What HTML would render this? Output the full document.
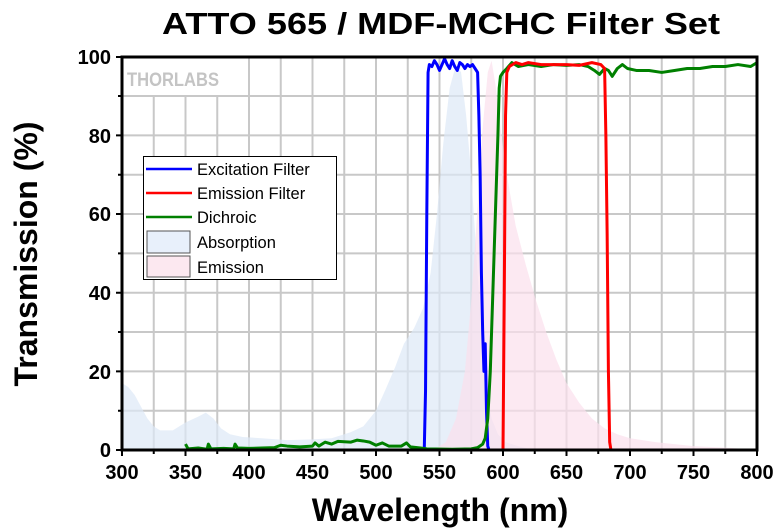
<!DOCTYPE html>
<html><head><meta charset="utf-8"><style>
html,body{margin:0;padding:0;background:#fff;}
svg{display:block;font-family:"Liberation Sans",Arial,sans-serif;}
</style></head><body>
<svg width="780" height="532" viewBox="0 0 780 532">
<text x="441" y="34" text-anchor="middle" font-size="31" font-weight="bold" textLength="558" lengthAdjust="spacingAndGlyphs">ATTO 565 / MDF-MCHC Filter Set</text>
<g stroke="#c8c8c8" stroke-width="2">
<path d="M153.75 57V450M185.5 57V450M217.25 57V450M249 57V450M280.75 57V450M312.5 57V450M344.25 57V450M376 57V450M407.75 57V450M439.5 57V450M471.25 57V450M503 57V450M534.75 57V450M566.5 57V450M598.25 57V450M630 57V450M661.75 57V450M693.5 57V450M725.25 57V450"/>
<path d="M122 410.7H757M122 371.4H757M122 332H757M122 292.7H757M122 253.4H757M122 214H757M122 174.7H757M122 135.4H757M122 96H757"/>
</g>
<rect x="123" y="58" width="102" height="37" fill="#fff"/>
<text x="127" y="86" font-size="19" font-weight="bold" fill="#c4c4c4" textLength="92" lengthAdjust="spacingAndGlyphs">THORLABS</text>
<g transform="translate(122,450) scale(1.27,-3.933) translate(-300,0)">
<polygon fill="#dde8f7" fill-opacity="0.7" points="300,0 300,17 305,16 310,14 315,11 320,8 325,6 330,5 340,5 350,7 360,8.5 366,9.5 372,8 378,5.5 385,4 395,3.3 410,3 430,2.5 450,2.7 465,3 480,4.5 490,6 500,10 507,15 515,21 522,27 530,31 537,36 543,45 548,60 553,78 558,92 563,98 567,96 571,85 575,70 579,50 583,30 587,15 591,8 596,4 602,2 612,1 625,0"/>
<polygon fill="#fbe0ec" fill-opacity="0.7" points="545,0 555,2 563,8 570,20 575,38 580,62 584,82 588,96 591,99 594,93 598,82 603,70 610,57 618,47 626,38 634,30 642,23 650,17 660,12 670,8 680,5.5 690,4 700,3 720,2 750,1 780,0.5 800,0"/>
<g fill="none" stroke-linejoin="round">
<polyline stroke="#0000ff" stroke-width="3" vector-effect="non-scaling-stroke" points="300,0 538,0 539,15 540,60 541,96 542,98 544,97.5 546,99 548,98 550,96.5 552,98 554,99.5 556,98 558,97 560,99 562,97.5 564,96.5 566,98.5 568,98 570,97 572,98 574,97.5 576,98 578,97 580,96 581,85 582,70 583,45 584,30 585,20 586,27 587,10 588,1 589,0 800,0"/>
<polyline stroke="#008000" stroke-width="3" vector-effect="non-scaling-stroke" points="350,1.5 352,0.3 360,0.5 367,0.2 368,1.5 370,0.3 380,0.4 388,0.3 389,1.5 391,0.5 400,0.4 410,0.5 420,0.6 425,1.2 430,1 440,0.8 450,1 452,1.8 455,1 460,2 465,1.5 470,2.2 480,2 485,2.5 490,2.3 495,2 500,1.2 505,1.8 510,1 520,1 524,1.8 527,0.8 535,0.5 540,0.3 560,0.2 575,0.3 580,0.6 584,1.5 586,3 588,8 590,20 592,40 594,60 596,80 597,92 598,95 600,96 603,97 607,98.5 612,97.5 620,98 630,97.5 640,98 650,97.8 660,98 667,97.5 672,96.5 676,95.5 680,97 683,96.5 686,95 690,97 694,98 698,97 705,96.5 715,96.5 725,96 735,96.5 745,97 755,97 765,97.5 775,97.5 785,98 795,97.5 800,98.5"/>
<polyline stroke="#ff0000" stroke-width="3" vector-effect="non-scaling-stroke" points="300,0 600,0 601,40 602,85 603,96 605,97.5 610,98.5 615,98 620,98.5 630,98 640,98 650,98 660,97.8 670,98.5 677,98 680,97 681,80 682,55 683,20 684,2 685,0 800,0"/>
</g>
</g>
<g stroke="#000" fill="none">
<rect x="122" y="57" width="635" height="393" stroke-width="3"/>
<path stroke-width="2" d="M116 57H122M116 135.4H122M116 214H122M116 292.7H122M116 371.4H122M116 450H122M118 96H122M118 174.7H122M118 253.4H122M118 332H122M118 410.7H122M122 450V456M185.5 450V456M249 450V456M312.5 450V456M376 450V456M439.5 450V456M503 450V456M566.5 450V456M630 450V456M693.5 450V456M757 450V456M153.75 450V454M217.25 450V454M280.75 450V454M344.25 450V454M407.75 450V454M471.25 450V454M534.75 450V454M598.25 450V454M661.75 450V454M725.25 450V454"/>
</g>
<g font-size="20" font-weight="bold" text-anchor="end">
<text x="111" y="64">100</text><text x="111" y="143">80</text><text x="111" y="221">60</text><text x="111" y="300">40</text><text x="111" y="379">20</text><text x="111" y="457">0</text>
</g>
<g font-size="20" font-weight="bold" text-anchor="middle">
<text x="122" y="479">300</text><text x="185.5" y="479">350</text><text x="249" y="479">400</text><text x="312.5" y="479">450</text><text x="376" y="479">500</text><text x="439.5" y="479">550</text><text x="503" y="479">600</text><text x="566.5" y="479">650</text><text x="630" y="479">700</text><text x="693.5" y="479">750</text><text x="757" y="479">800</text>
</g>
<text x="440" y="521" text-anchor="middle" font-size="32" font-weight="bold">Wavelength (nm)</text>
<text transform="translate(37,254) rotate(-90)" text-anchor="middle" font-size="32" font-weight="bold">Transmission (%)</text>
<rect x="143.5" y="156.5" width="193" height="123" fill="#fff" stroke="#000" stroke-width="1"/>
<path d="M146 169H192" stroke="#0000ff" stroke-width="2.5"/>
<path d="M146 193H192" stroke="#ff0000" stroke-width="2.5"/>
<path d="M146 217H192" stroke="#008000" stroke-width="2.5"/>
<rect x="147" y="231" width="43" height="22" fill="#e8f0fb" stroke="#555"/>
<rect x="147" y="256" width="43" height="21" fill="#fce8f0" stroke="#555"/>
<g font-size="16.5">
<text x="197" y="175">Excitation Filter</text>
<text x="197" y="199">Emission Filter</text>
<text x="197" y="223">Dichroic</text>
<text x="197" y="248">Absorption</text>
<text x="197" y="273">Emission</text>
</g>
</svg>
</body></html>
